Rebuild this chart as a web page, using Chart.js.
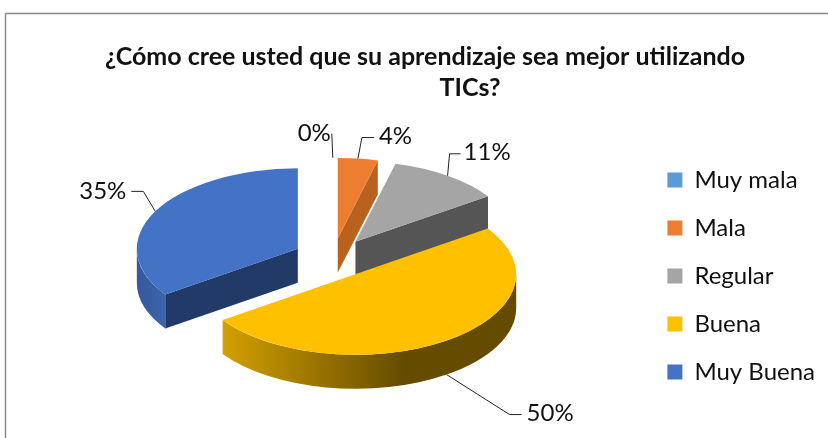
<!DOCTYPE html>
<html><head><meta charset="utf-8">
<style>html,body{margin:0;padding:0;background:#fff;overflow:hidden}canvas{display:block}</style>
<script src="https://cdn.jsdelivr.net/npm/chart.js@4"></script>
</head><body><canvas id="c" width="828" height="438"></canvas>
<script>
const categories = ["Muy mala", "Mala", "Regular", "Buena", "Muy Buena"];
const values = [0, 4, 11.4, 50, 34.6];
const colors = ["#5B9BD5", "#ED7D31", "#A5A5A5", "#FFC000", "#4472C4"];
const titleLines = ["¿Cómo cree usted que su aprendizaje sea mejor utilizando", "TICs?"];

const FONT = "Lato, 'Open Sans', sans-serif";
const TILT = 0.5, DEPTH = 34, EXPLODE = 39.5, CX = 332.8, CY = 258;
const drawOrder = [1, 2, 4, 3];
const walls = {
  1: {radial: "#B9621F"},
  2: {radial: "#555555"},
  3: {outer: [[0, "#D3A000"], [0.62, "#654B00"], [1, "#654B00"]]},
  4: {radial: "#223A68", outer: [[0, "#35589A"], [1, "#3C65AD"]]}
};
// elbow leader: [dx,dy] of the knee and of the line end from the arc anchor, text offset from the end
const callouts = [
  {knee: [0, 0], end: [-1, -24], tx: -1, ty: 0, align: "right"},
  {knee: [4, -21], end: [16, -21], tx: 5, ty: -1, align: "left"},
  {knee: [2, -22], end: [13, -22], tx: 3, ty: -2, align: "left"},
  {knee: [63, 40], end: [75, 40], tx: 5, ty: -1, align: "left"},
  {knee: [-12, -20], end: [-24, -20], tx: -5, ty: 0, align: "right"}
];

function place(a) {
  const mid = (a.startAngle + a.endAngle) / 2;
  return {
    x: CX + Math.cos(mid) * EXPLODE,
    y: CY + Math.sin(mid) * EXPLODE * TILT,
    mid, r: a.outerRadius, sx: a.x, sy: a.y
  };
}
const pie3d = {
  id: "pie3d",
  beforeDraw(chart) {
    const c = chart.ctx;
    c.save();
    c.strokeStyle = "#8C8C8C"; c.lineWidth = 1.5;
    c.beginPath(); c.moveTo(5.5, 470); c.lineTo(5.5, 13.5); c.lineTo(860, 13.5); c.stroke();
    c.restore();
  },
  beforeDatasetsDraw(chart) {
    const c = chart.ctx, arcs = chart.getDatasetMeta(0).data;
    drawOrder.forEach(i => {
      const a = arcs[i], p = place(a), w = walls[i], ry = p.r * TILT;
      if (w.radial) {
        const t = i === 4 ? a.startAngle : a.endAngle;
        const ox = p.x + Math.cos(t) * p.r, oy = p.y + Math.sin(t) * ry;
        c.fillStyle = w.radial;
        c.beginPath(); c.moveTo(p.x, p.y); c.lineTo(ox, oy); c.lineTo(ox, oy + DEPTH); c.lineTo(p.x, p.y + DEPTH);
        c.closePath(); c.fill();
      }
      if (w.outer) {
        // visible part of the rim: the front half of the ellipse
        const lo = Math.max(a.startAngle, 0), hi = Math.min(a.endAngle, Math.PI);
        const xa = p.x + Math.cos(hi) * p.r, xb = p.x + Math.cos(lo) * p.r;
        const g = c.createLinearGradient(Math.min(xa, xb), 0, Math.max(xa, xb), 0);
        w.outer.forEach(s => g.addColorStop(s[0], s[1]));
        c.fillStyle = g;
        c.beginPath();
        c.ellipse(p.x, p.y, p.r, ry, 0, lo, hi);
        c.ellipse(p.x, p.y + DEPTH, p.r, ry, 0, hi, lo, true);
        c.closePath(); c.fill();
      }
      c.save();
      c.translate(p.x, p.y); c.scale(1, TILT); c.translate(-p.sx, -p.sy);
      a.draw(c);
      c.restore();
    });
    return false;
  },
  afterDraw(chart) {
    const c = chart.ctx, arcs = chart.getDatasetMeta(0).data;
    c.save();
    c.fillStyle = "#111"; c.textBaseline = "middle";
    c.font = "bold 25px " + FONT; c.textAlign = "center";
    c.fillText(titleLines[0], 425, 57);
    c.fillText(titleLines[1], 470, 88);
    c.font = "24px " + FONT;
    c.strokeStyle = "#222"; c.lineWidth = 1;
    arcs.forEach((a, i) => {
      const p = place(a), co = callouts[i];
      const ax = p.x + Math.cos(p.mid) * p.r;
      let ay = p.y + Math.sin(p.mid) * p.r * TILT;
      if (Math.sin(p.mid) > 0) ay += DEPTH;
      const kx = ax + co.knee[0], ky = ay + co.knee[1], ex = ax + co.end[0], ey = ay + co.end[1];
      c.beginPath(); c.moveTo(ax, ay); c.lineTo(kx, ky); c.lineTo(ex, ey); c.stroke();
      c.textAlign = co.align;
      c.fillText(Math.round(values[i]) + "%", ex + co.tx, ey + co.ty);
    });
    c.restore();
  }
};

new Chart(document.getElementById("c"), {
  type: "pie",
  data: {labels: categories, datasets: [{data: values, backgroundColor: colors, borderWidth: 0, radius: 161}]},
  options: {
    responsive: false, animation: false,
    layout: {padding: {top: 114, right: 3}},
    plugins: {
      tooltip: {enabled: false},
      title: {display: false},
      legend: {
        position: "right",
        labels: {boxWidth: 15, boxHeight: 15, padding: 24, color: "#111", font: {family: FONT, size: 24}}
      }
    }
  },
  plugins: [pie3d]
});
</script></body></html>
